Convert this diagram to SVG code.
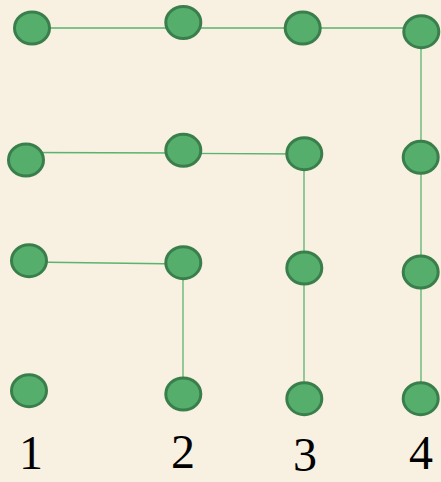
<svg xmlns="http://www.w3.org/2000/svg" width="441" height="482" viewBox="0 0 441 482">
<style>
.n{fill:#55ae6c;stroke:#3a7f4b;stroke-width:3}
.e{stroke:#5ab36f;stroke-width:1.3;fill:none}
.t{font-family:"Liberation Serif",serif;font-size:48px;fill:#000;text-anchor:middle}
</style>
<rect width="441" height="482" fill="#f8f0e0"/>
<g id="connectors">
<line class="e" x1="32" y1="28" x2="183" y2="28"/>
<line class="e" x1="183" y1="28" x2="303" y2="28"/>
<line class="e" x1="303" y1="28" x2="421" y2="28"/>
<line class="e" x1="421" y1="32" x2="421" y2="157"/>
<line class="e" x1="421" y1="157" x2="421" y2="272"/>
<line class="e" x1="421" y1="272" x2="421" y2="399"/>
<line class="e" x1="26" y1="152.5" x2="183" y2="153"/>
<line class="e" x1="183" y1="153.3" x2="304" y2="154"/>
<line class="e" x1="304" y1="154" x2="304" y2="268"/>
<line class="e" x1="304" y1="268" x2="304" y2="399"/>
<line class="e" x1="29" y1="262" x2="183" y2="264"/>
<line class="e" x1="183" y1="263" x2="183" y2="394"/>
</g>
<g id="n11"><ellipse class="n" cx="32" cy="28" rx="17.5" ry="16"/></g>
<g id="n12"><ellipse class="n" cx="183.3" cy="22.5" rx="17.5" ry="16"/></g>
<g id="n13"><ellipse class="n" cx="302.7" cy="28" rx="17.5" ry="16"/></g>
<g id="n14"><ellipse class="n" cx="421.3" cy="31.7" rx="17.5" ry="16"/></g>
<g id="n21"><ellipse class="n" cx="26" cy="160" rx="17.5" ry="16"/></g>
<g id="n22"><ellipse class="n" cx="183.3" cy="150.3" rx="17.5" ry="16"/></g>
<g id="n23"><ellipse class="n" cx="304.3" cy="153.7" rx="17.5" ry="16"/></g>
<g id="n24"><ellipse class="n" cx="420.7" cy="157.3" rx="17.5" ry="16"/></g>
<g id="n31"><ellipse class="n" cx="29" cy="260.7" rx="17.5" ry="16"/></g>
<g id="n32"><ellipse class="n" cx="183.3" cy="262.7" rx="17.5" ry="16"/></g>
<g id="n33"><ellipse class="n" cx="304.3" cy="268" rx="17.5" ry="16"/></g>
<g id="n34"><ellipse class="n" cx="420.7" cy="272" rx="17.5" ry="16"/></g>
<g id="n41"><ellipse class="n" cx="29" cy="390.7" rx="17.5" ry="16"/></g>
<g id="n42"><ellipse class="n" cx="183.3" cy="394" rx="17.5" ry="16"/></g>
<g id="n43"><ellipse class="n" cx="304.3" cy="398.7" rx="17.5" ry="16"/></g>
<g id="n44"><ellipse class="n" cx="420.7" cy="398.7" rx="17.5" ry="16"/></g>
<g id="labels">
<text class="t" x="31" y="469">1</text>
<text class="t" x="183" y="468">2</text>
<text class="t" x="305" y="471">3</text>
<text class="t" x="421" y="469">4</text>
</g>
</svg>
